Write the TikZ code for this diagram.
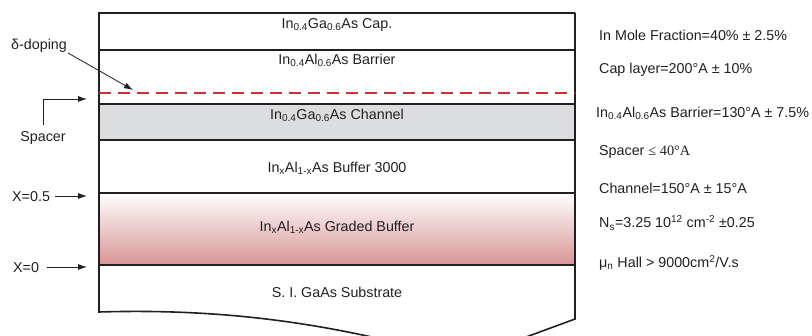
\documentclass[tikz,border=0pt]{standalone}
\usepackage{fontspec}
\setmainfont{Liberation Sans}
\newfontfamily\serifrm{Liberation Serif}
\usetikzlibrary{arrows.meta}
\definecolor{ink}{RGB}{35,31,32}
\definecolor{chgray}{RGB}{220,221,223}
\definecolor{gradpink}{RGB}{216,148,148}
\definecolor{dopered}{RGB}{208,45,55}
\tikzset{
  layerline/.style={draw=ink, line width=1.6pt},
  thinline/.style={draw=ink, line width=1.2pt},
  txt/.style={text=ink, font=\fontsize{14.3}{17}\selectfont, inner sep=0pt},
  rtxt/.style={txt, anchor=west},
  pointer/.style={draw=ink, line width=0.8pt, -{Latex[length=9pt,width=6pt]}},
}
\begin{document}
\begin{tikzpicture}[x=1pt,y=-1pt]
\useasboundingbox (0,0) rectangle (812,336);
\begin{scope}
\clip (0,0) rectangle (812,336);
% fills
\fill[chgray] (99,104) rectangle (575,140);
\shade[top color=white, bottom color=gradpink] (99,193) rectangle (575,265);
% outline with torn bottom
\draw[layerline] (575,13) -- (575,319) -- (518,340);
\draw[layerline] (575,13) -- (99,13) -- (99,312)
  .. controls (200,309) and (290,318) .. (385,340);
\end{scope}
% layer boundaries
\draw[layerline] (99,50) -- (575,50);
\draw[layerline] (99,104) -- (575,104);
\draw[layerline] (99,140) -- (575,140);
\draw[thinline] (99,193) -- (575,193);
\draw[thinline] (99,265) -- (575,265);
% delta doping
\draw[dopered, line width=1.3pt, dash pattern=on 12pt off 7pt] (99,93) -- (575,93);
\coordinate (dtip) at (133,90);
% layer labels
\node[txt] (cap) at (337,25) {In\textsubscript{0.4}Ga\textsubscript{0.6}As Cap.};
\node[txt] (bar) at (337,60) {In\textsubscript{0.4}Al\textsubscript{0.6}As Barrier};
\node[txt] (chn) at (337,115) {In\textsubscript{0.4}Ga\textsubscript{0.6}As Channel};
\node[txt] (buf) at (337,168) {In\textsubscript{x}Al\textsubscript{1-x}As Buffer 3000};
\node[txt] (grd) at (337,227) {In\textsubscript{x}Al\textsubscript{1-x}As Graded Buffer};
\node[txt] (sub) at (337,292) {S. I. GaAs Substrate};
% left labels
\node[txt, anchor=west] (dop) at (11,46) {δ-doping};
\draw[pointer] (68,53) -- (dtip);
\node[txt] (spc) at (43,138) {Spacer};
\coordinate (spcorner) at (43,99);
\coordinate (sptip) at (87,99);
\draw[pointer] (43,125) -- (spcorner) -- (sptip);
\node[txt, anchor=west] (x05) at (12,197) {X=0.5};
\coordinate (x05tip) at (87,196);
\draw[pointer] (55,196) -- (x05tip);
\node[txt, anchor=west] (x0) at (13,268) {X=0};
\coordinate (x0tip) at (87,267);
\draw[pointer] (47,267) -- (x0tip);
% right notes
\node[rtxt] (r1) at (599,35) {In Mole Fraction=40\% ± 2.5\%};
\node[rtxt] (r2) at (599,70) {Cap layer=200°A ± 10\%};
\node[rtxt] (r3) at (596,113) {In\textsubscript{0.4}Al\textsubscript{0.6}As Barrier=130°A ± 7.5\%};
\node[rtxt] (r4) at (599,152) {Spacer {\serifrm ≤ 40°A}};
\node[rtxt] (r5) at (599,188) {Channel=150°A ± 15°A};
\node[rtxt] (r6) at (599,223) {N\textsubscript{s}=3.25 10\textsuperscript{12} cm\textsuperscript{-2} ±0.25};
\node[rtxt] (r7) at (599,263) {μ\textsubscript{n} Hall > 9000cm\textsuperscript{2}/V.s};
\end{tikzpicture}
\end{document}
